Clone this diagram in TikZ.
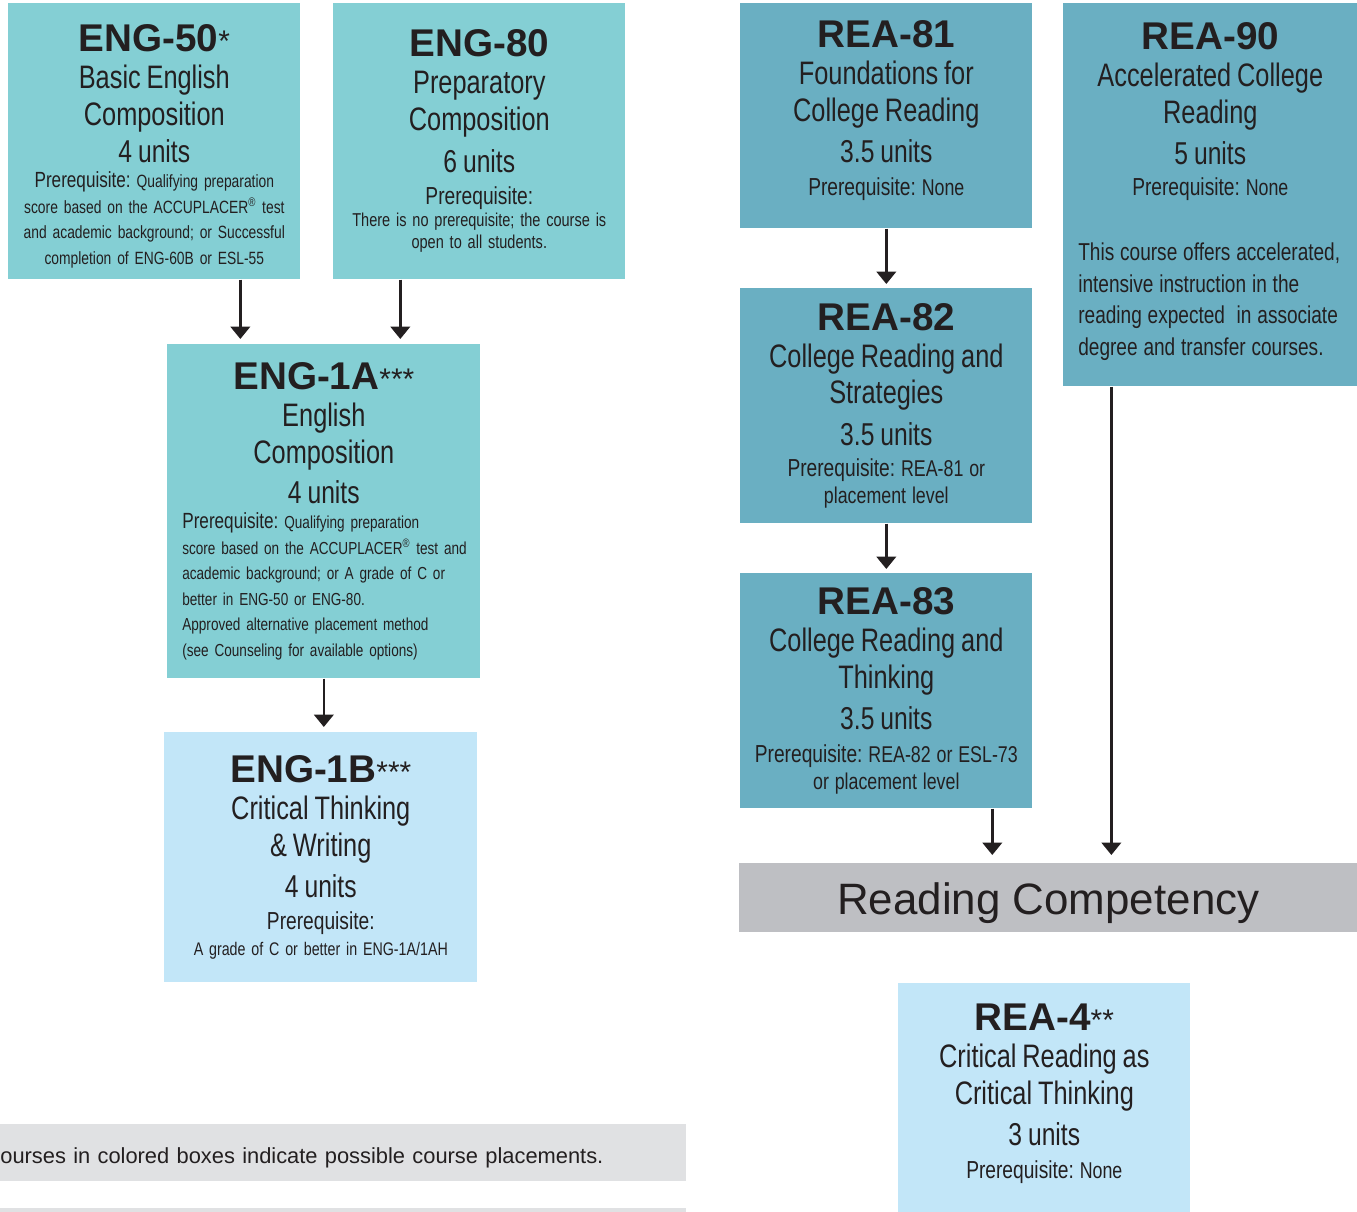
\documentclass[tikz,border=0pt]{standalone}
\usepackage{fontspec}
\usepackage{tikz}
\usetikzlibrary{arrows.meta}
\setmainfont{Liberation Sans}[FakeStretch=0.78, WordSpace=0.62]
\newfontfamily\widefont{Liberation Sans}

\definecolor{engteal}{RGB}{132,207,212}
\definecolor{reablue}{RGB}{106,175,194}
\definecolor{lightblue}{RGB}{194,230,248}
\definecolor{compgray}{RGB}{190,191,195}
\definecolor{notegray}{RGB}{224,225,227}
\definecolor{ink}{RGB}{35,31,32}

\newcommand{\course}[2]{{\widefont\fontsize{22}{24}\selectfont\bfseries #1}{\widefont\fontsize{17}{20}\selectfont #2}\par}
\newcommand{\ctitle}[1]{\fontsize{18.5}{21}\selectfont #1\par}
\newcommand{\cunits}[2][23.5pt]{\fontsize{18}{#1}\selectfont #2\par}
\newcommand{\prq}[1][14]{{\fontsize{#1}{14}\selectfont Prerequisite:}}
\frenchspacing

\begin{document}
\begin{tikzpicture}[x=0.02cm, y=-0.02cm, text=ink]
  \tikzstyle{box} = [anchor=north west, inner xsep=0.1cm, inner ysep=0pt, align=center]
  \tikzstyle{engbox} = [box, fill=engteal]
  \tikzstyle{reabox} = [box, fill=reablue]
  \tikzstyle{nextbox} = [box, fill=lightblue]
  \tikzstyle{line} = [draw, ink, line width=1.5pt, -{Triangle[width=11pt,length=7pt]}]
  \useasboundingbox (0,0) rectangle (1357,1212);

  \node[engbox, minimum width=5.84cm, minimum height=5.52cm, text width=5.64cm] (eng50) at (8,3) {
    \course{ENG-50}{*}
    \ctitle{Basic English\\Composition}
    \cunits[21pt]{4 units}
    \fontsize{10.1}{14.5}\selectfont\prq[12.5] Qualifying preparation\\
    score based on the ACCUPLACER\textsuperscript{®} test\\
    and academic background; or Successful\\
    completion of ENG-60B or ESL-55\par\vspace{-5.7pt}};
  \node[engbox, minimum width=5.84cm, minimum height=5.52cm, text width=5.64cm] (eng80) at (333,3) {
    \course{ENG-80}{}
    \ctitle{Preparatory\\Composition}
    \cunits{6 units}
    {\fontsize{14}{18.7}\selectfont Prerequisite:\par}
    \fontsize{10.6}{12.5}\selectfont There is no prerequisite; the course is\\
    open to all students.\par};
  \node[engbox, minimum width=6.26cm, minimum height=6.68cm, text width=6.06cm] (eng1a) at (167,344) {
    \course{ENG-1A}{***}
    \ctitle{English\\Composition}
    \cunits[22.5pt]{4 units}
    \raggedright\setlength{\leftskip}{0.2cm}\fontsize{9.9}{14.5}\selectfont\prq[12.5] Qualifying preparation\\
    score based on the ACCUPLACER\textsuperscript{®} test and\\
    academic background; or A grade of C or\\
    better in ENG-50 or ENG-80.\\
    Approved alternative placement method\\
    (see Counseling for available options)\par};
  \node[nextbox, minimum width=6.26cm, minimum height=5.0cm, text width=6.06cm] (eng1b) at (164,732) {
    \course{ENG-1B}{***}
    \ctitle{Critical Thinking\\\& Writing}
    \cunits{4 units}
    {\fontsize{14}{18}\selectfont Prerequisite:\par}
    \fontsize{10.4}{14.7}\selectfont A grade of C or better in ENG-1A/1AH\par};

  \node[reabox, minimum width=5.84cm, minimum height=4.5cm, text width=5.64cm] (rea81) at (740,3) {
    \course{REA-81}{}
    \ctitle{Foundations for\\College Reading}
    \cunits{3.5 units}
    {\fontsize{14}{19}\selectfont Prerequisite: {\fontsize{13}{19}\selectfont None}\par}\vspace{6pt}};
  \node[reabox, inner xsep=0.3cm, minimum width=5.88cm, minimum height=7.66cm, text width=5.28cm] (rea90) at (1063,3) {
    \course{REA-90}{}
    \ctitle{Accelerated College\\Reading}
    \cunits{5 units}
    {\fontsize{14}{18}\selectfont Prerequisite: {\fontsize{13}{18}\selectfont None}\par}
    \raggedright\fontsize{13.9}{18}\selectfont\vspace{18.7pt}This course offers accelerated,\\
    intensive instruction in the\\
    reading expected\ \ in associate\\
    degree and transfer courses.\par\vspace{4pt}};
  \node[reabox, minimum width=5.84cm, minimum height=4.7cm, text width=5.64cm] (rea82) at (740,288) {
    \course{REA-82}{}
    \ctitle{College Reading and\\Strategies}
    \cunits{3.5 units}
    {\fontsize{14}{18}\selectfont Prerequisite: {\fontsize{13}{18}\selectfont REA-81 or}\par}
    {\fontsize{13}{15.3}\selectfont placement level\par}};
  \node[reabox, minimum width=5.84cm, minimum height=4.7cm, text width=5.64cm] (rea83) at (740,573) {
    \course{REA-83}{}
    \ctitle{College Reading and\\Thinking}
    \cunits{3.5 units}
    {\fontsize{14}{18.5}\selectfont Prerequisite: {\fontsize{13}{18}\selectfont REA-82 or ESL-73}\par}
    {\fontsize{13}{15.3}\selectfont or placement level\par}};

  \node[anchor=north west, fill=compgray, minimum width=12.36cm, minimum height=1.38cm, inner sep=0pt,
        text height=19pt, text depth=0pt, font=\widefont\fontsize{25}{28}\selectfont] (comp) at (739,863) {Reading Competency};

  \node[nextbox, minimum width=5.84cm, minimum height=4.58cm, text width=5.64cm] (rea4) at (898,983) {
    \course{REA-4}{**}
    \ctitle{Critical Reading as\\Critical Thinking}
    \cunits{3 units}
    {\fontsize{14}{18.5}\selectfont Prerequisite: {\fontsize{13}{18}\selectfont None}\par}\vspace{4.5pt}};

  \node[anchor=north west, fill=notegray, minimum width=13.72cm, minimum height=1.14cm, inner sep=0pt,
        text width=13.72cm, text height=12pt, text depth=0pt, align=left,
        font=\widefont\fontsize{12.45}{15}\selectfont] (note) at (0,1124) {ourses in colored boxes indicate possible course placements.};
  \fill[notegray] (0,1208) rectangle (686,1212);

  \path [line, shorten >=0.1cm] ([xshift=-1.67cm]eng1a.north |- eng50.south) -- ([xshift=-1.67cm]eng1a.north);
  \path [line, shorten >=0.1cm] ([xshift=1.53cm]eng1a.north |- eng80.south) -- ([xshift=1.53cm]eng1a.north);
  \path [line, shorten >=0.1cm] (eng1a.south) -- (eng1a.south |- eng1b.north);
  \path [line, shorten >=0.08cm] (rea81.south) -- (rea82.north);
  \path [line, shorten >=0.08cm] (rea82.south) -- (rea83.north);
  \path [line, shorten >=0.16cm] ([xshift=2.12cm]rea83.south) -- ([xshift=2.12cm]rea83.south |- comp.north);
  \path [line, shorten >=0.16cm] ([xshift=-1.98cm]rea90.south) -- ([xshift=-1.98cm]rea90.south |- comp.north);

\end{tikzpicture}
\end{document}
